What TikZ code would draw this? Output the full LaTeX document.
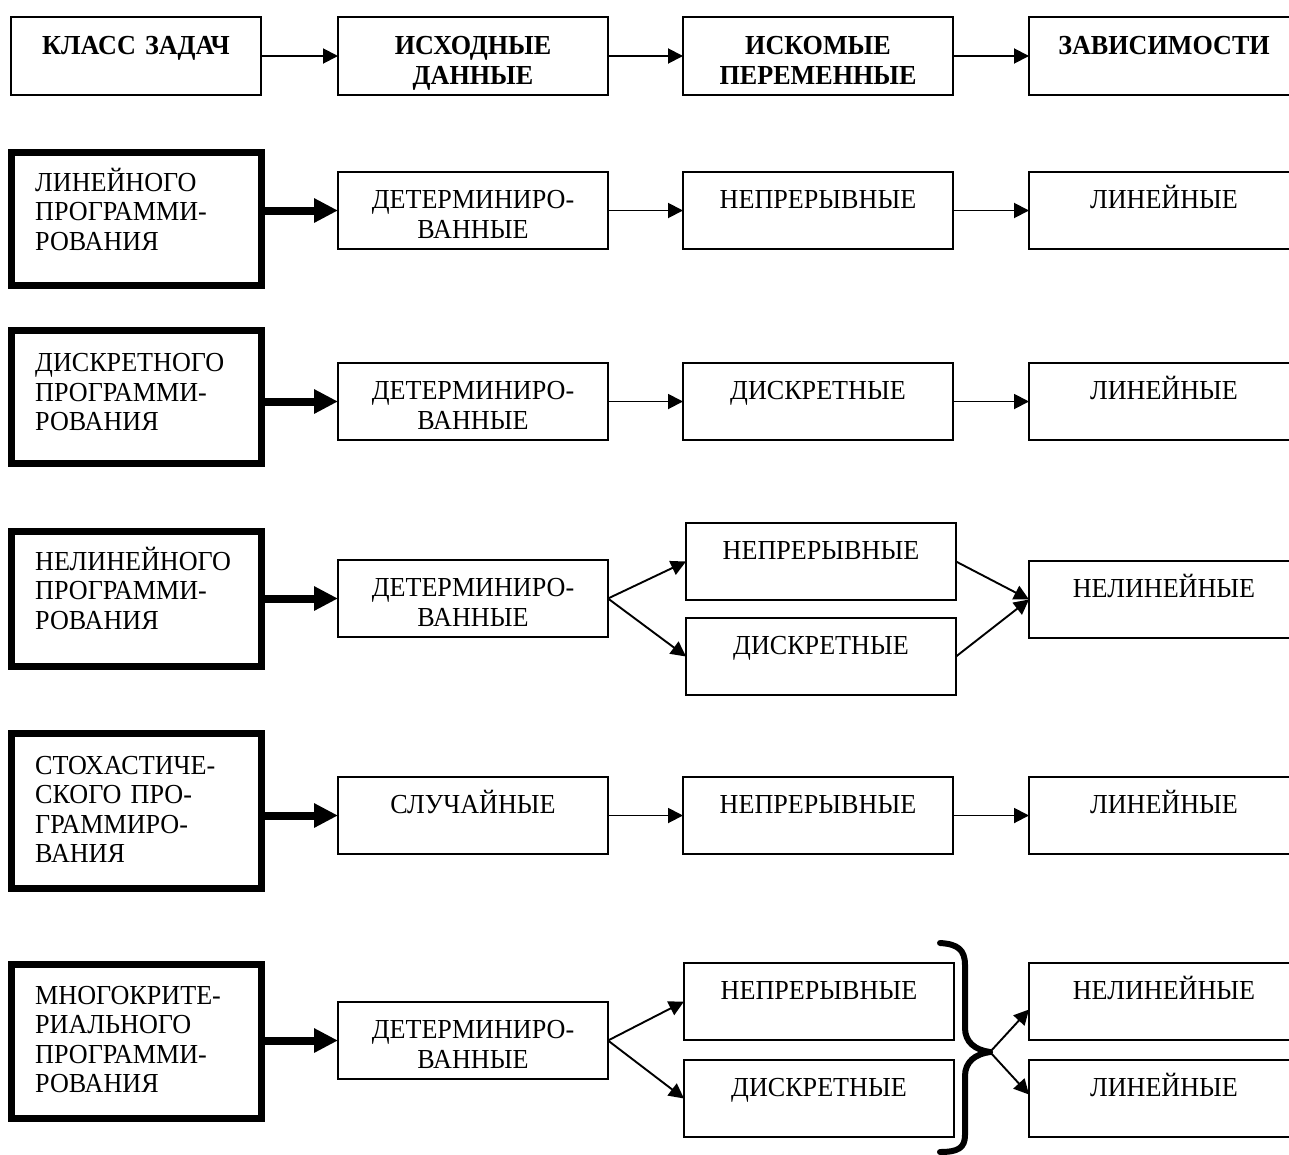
\documentclass[tikz,border=0pt]{standalone}
\usepackage{fontspec}
\setmainfont{Liberation Serif}[FakeStretch=0.95]
\usetikzlibrary{arrows.meta}
\begin{document}
\begin{tikzpicture}[x=1pt,y=-1pt,
  box/.style={draw, line width=2pt, inner sep=0pt, outer sep=0pt, anchor=north west, minimum width=#1, minimum height=77pt},
  box/.default=270pt,
  tbox/.style={draw, line width=7pt, inner sep=0pt, outer sep=0pt, anchor=north west, minimum width=250pt, minimum height=#1},
  ctxt/.style={inner sep=0pt, anchor=base, text width=268pt, align=center, font=\fontsize{27.5}{29.5}\selectfont},
  btxt/.style={ctxt, font=\fontsize{27.5}{30}\selectfont\bfseries},
  ltxt/.style={inner sep=0pt, anchor=base west, text width=225pt, align=left, font=\fontsize{27.5}{29.5}\selectfont},
  arr/.style={-{Triangle[length=15pt,width=15pt]}, line width=1.9pt},
  tarr/.style={-{Triangle[length=24pt,width=23pt]}, line width=8pt},
  bracestyle/.style={line width=6pt, line join=round, line cap=round}
]
\useasboundingbox (0,0) rectangle (1289,1154);
\clip (0,0) rectangle (1289,1154);

% ---------- header row ----------
\node[box=250pt, minimum height=78pt] (h0) at (11,17) {};
\node[box, minimum height=78pt] (h1) at (338,17) {};
\node[box, minimum height=78pt] (h2) at (683,17) {};
\node[box, minimum height=78pt] (h3) at (1029,17) {};
\node[btxt] (th0) at ([yshift=-37pt]h0.north) {КЛАСС ЗАДАЧ};
\node[btxt] (th1) at ([yshift=-37pt]h1.north) {ИСХОДНЫЕ\\ДАННЫЕ};
\node[btxt] (th2) at ([yshift=-37pt]h2.north) {ИСКОМЫЕ\\ПЕРЕМЕННЫЕ};
\node[btxt] (th3) at ([yshift=-37pt]h3.north) {ЗАВИСИМОСТИ};
\draw[arr] (h0.east) -- (h1.west);
\draw[arr] (h1.east) -- (h2.west);
\draw[arr] (h2.east) -- (h3.west);

% ---------- row 1 ----------
\node[tbox=133pt] (a1) at (11.5,152.5) {};
\node[ltxt] (ta1) at ([xshift=23.5pt,yshift=-38.5pt]a1.north west) {ЛИНЕЙНОГО\\ПРОГРАММИ-\\РОВАНИЯ};
\node[box] (b1) at (338,172) {};
\node[box] (c1) at (683,172) {};
\node[box] (d1) at (1029,172) {};
\node[ctxt] (tb1) at ([yshift=-36.5pt]b1.north) {ДЕТЕРМИНИРО-\\ВАННЫЕ};
\node[ctxt] (tc1) at ([yshift=-36.5pt]c1.north) {НЕПРЕРЫВНЫЕ};
\node[ctxt] (td1) at ([yshift=-36.5pt]d1.north) {ЛИНЕЙНЫЕ};
\draw[tarr] (a1.east |- b1.west) -- (b1.west);
\draw[arr] (b1.east) -- (c1.west);
\draw[arr] (c1.east) -- (d1.west);

% ---------- row 2 ----------
\node[tbox=133pt] (a2) at (11.5,330.5) {};
\node[ltxt] (ta2) at ([xshift=23.5pt,yshift=-41pt]a2.north west) {ДИСКРЕТНОГО\\ПРОГРАММИ-\\РОВАНИЯ};
\node[box] (b2) at (338,363) {};
\node[box] (c2) at (683,363) {};
\node[box] (d2) at (1029,363) {};
\node[ctxt] (tb2) at ([yshift=-36.5pt]b2.north) {ДЕТЕРМИНИРО-\\ВАННЫЕ};
\node[ctxt] (tc2) at ([yshift=-36.5pt]c2.north) {ДИСКРЕТНЫЕ};
\node[ctxt] (td2) at ([yshift=-36.5pt]d2.north) {ЛИНЕЙНЫЕ};
\draw[tarr] (a2.east |- b2.west) -- (b2.west);
\draw[arr] (b2.east) -- (c2.west);
\draw[arr] (c2.east) -- (d2.west);

% ---------- row 3 ----------
\node[tbox=135pt] (a3) at (11.5,531.5) {};
\node[ltxt] (ta3) at ([xshift=23.5pt,yshift=-38.5pt]a3.north west) {НЕЛИНЕЙНОГО\\ПРОГРАММИ-\\РОВАНИЯ};
\node[box] (b3) at (338,560) {};
\node[box] (c3) at (686,523) {};
\node[box] (e3) at (686,618) {};
\node[box] (d3) at (1029,561) {};
\node[ctxt] (tb3) at ([yshift=-36.5pt]b3.north) {ДЕТЕРМИНИРО-\\ВАННЫЕ};
\node[ctxt] (tc3) at ([yshift=-36.5pt]c3.north) {НЕПРЕРЫВНЫЕ};
\node[ctxt] (te3) at ([yshift=-36.5pt]e3.north) {ДИСКРЕТНЫЕ};
\node[ctxt] (td3) at ([yshift=-36.5pt]d3.north) {НЕЛИНЕЙНЫЕ};
\draw[tarr] (a3.east |- b3.west) -- (b3.west);
\draw[arr] (b3.east) -- (c3.west);
\draw[arr] (b3.east) -- (e3.west);
\draw[arr] (c3.east) -- (d3.west);
\draw[arr] (e3.east) -- (d3.west);

% ---------- row 4 ----------
\node[tbox=155pt] (a4) at (11.5,733.5) {};
\node[ltxt] (ta4) at ([xshift=23.5pt,yshift=-40.5pt]a4.north west) {СТОХАСТИЧЕ-\\СКОГО ПРО-\\ГРАММИРО-\\ВАНИЯ};
\node[box] (b4) at (338,777) {};
\node[box] (c4) at (683,777) {};
\node[box] (d4) at (1029,777) {};
\node[ctxt] (tb4) at ([yshift=-36.5pt]b4.north) {СЛУЧАЙНЫЕ};
\node[ctxt] (tc4) at ([yshift=-36.5pt]c4.north) {НЕПРЕРЫВНЫЕ};
\node[ctxt] (td4) at ([yshift=-36.5pt]d4.north) {ЛИНЕЙНЫЕ};
\draw[tarr] (a4.east |- b4.west) -- (b4.west);
\draw[arr] (b4.east) -- (c4.west);
\draw[arr] (c4.east) -- (d4.west);

% ---------- row 5 ----------
\node[tbox=154pt] (a5) at (11.5,964.5) {};
\node[ltxt] (ta5) at ([xshift=23.5pt,yshift=-39.5pt]a5.north west) {МНОГОКРИТЕ-\\РИАЛЬНОГО\\ПРОГРАММИ-\\РОВАНИЯ};
\node[box] (b5) at (338,1002) {};
\node[box] (c5) at (684,963) {};
\node[box] (e5) at (684,1060) {};
\node[box] (d5) at (1029,963) {};
\node[box] (f5) at (1029,1060) {};
\node[ctxt] (tb5) at ([yshift=-36.5pt]b5.north) {ДЕТЕРМИНИРО-\\ВАННЫЕ};
\node[ctxt] (tc5) at ([yshift=-36.5pt]c5.north) {НЕПРЕРЫВНЫЕ};
\node[ctxt] (te5) at ([yshift=-36.5pt]e5.north) {ДИСКРЕТНЫЕ};
\node[ctxt] (td5) at ([yshift=-36.5pt]d5.north) {НЕЛИНЕЙНЫЕ};
\node[ctxt] (tf5) at ([yshift=-36.5pt]f5.north) {ЛИНЕЙНЫЕ};
\draw[tarr] (a5.east |- b5.west) -- (b5.west);
\draw[arr] (b5.east) -- (c5.west);
\draw[arr] (b5.east) -- (e5.west);
% brace
\coordinate (tip) at (990,1052);
\draw[bracestyle] (940,943) .. controls (958,944) and (965,950) .. (965,965)
  -- (965,1028) .. controls (965,1042) and (975,1050) .. (tip)
  .. controls (975,1054) and (965,1062) .. (965,1076)
  -- (965,1135) .. controls (965,1148) and (958,1152) .. (940,1152);
\draw[arr] (tip) -- ([yshift=-8pt]d5.west);
\draw[arr] (tip) -- ([yshift=4pt]f5.west);
\end{tikzpicture}
\end{document}
